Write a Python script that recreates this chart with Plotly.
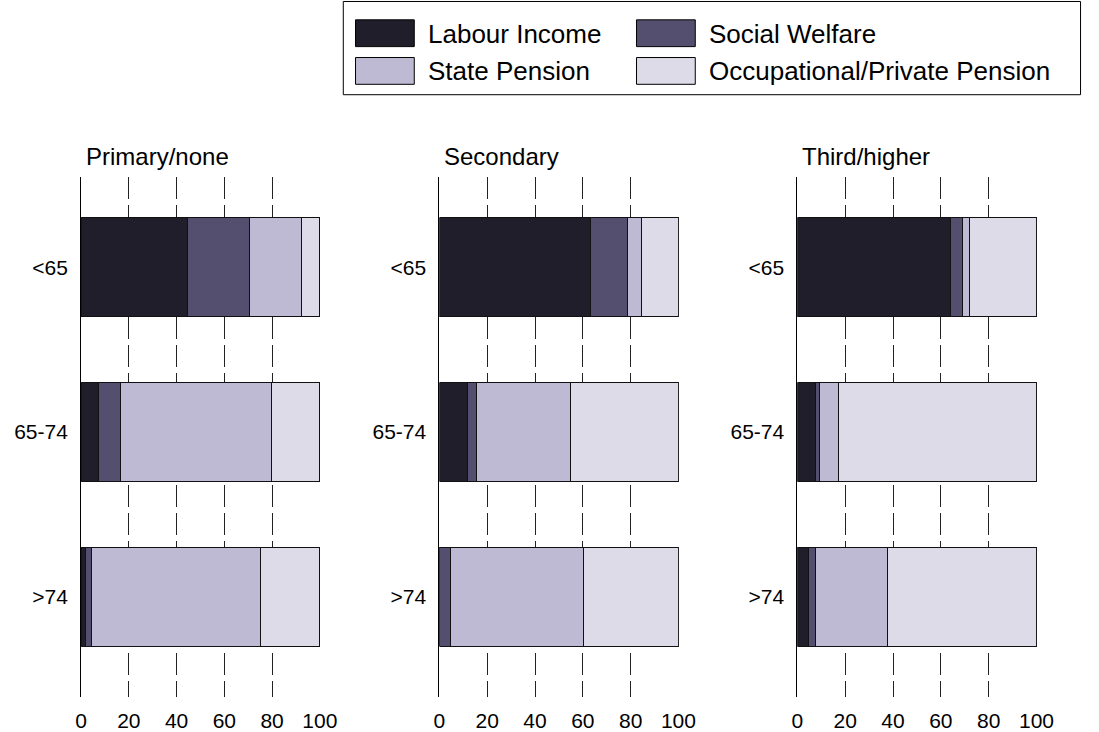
import plotly.graph_objects as go

# ---- data ----
age_groups = ["<65", "65-74", ">74"]
education = ["Primary/none", "Secondary", "Third/higher"]
series_names = ["Labour Income", "Social Welfare", "State Pension", "Occupational/Private Pension"]
series_colors = ["#1f1e2a", "#544f6e", "#bfbad3", "#dddbe7"]

# values per education panel, in order of age_groups
labour_income = [[44.7, 7.2, 1.8], [63.1, 11.9, 0.0], [64.2, 7.5, 4.6]]
social_welfare = [[25.8, 9.4, 2.5], [15.4, 3.6, 4.7], [5.0, 1.7, 2.8]]
state_pension = [[21.7, 63.1, 70.7], [6.0, 39.5, 55.4], [2.6, 8.2, 30.1]]
occ_private_pension = [[7.8, 20.3, 25.0], [15.5, 45.0, 39.9], [28.2, 82.6, 62.5]]
x_ticks = [0, 20, 40, 60, 80, 100]

all_series = [labour_income, social_welfare, state_pension, occ_private_pension]

W, H = 1099, 732
x_domains = [(76.7 / W, 321.0 / W), (442.7 / W, 687.3 / W), (808.3 / W, 1053.0 / W)]
y_domain = (1 - 703 / H, 1 - 178 / H)

FONT = "Liberation Sans, Arial, sans-serif"

fig = go.Figure()
for p in range(3):
    xa = "x" if p == 0 else f"x{p+1}"
    ya = "y" if p == 0 else f"y{p+1}"
    for s, name in enumerate(series_names):
        fig.add_trace(go.Bar(
            x=all_series[s][p], y=age_groups, orientation="h",
            name=name, marker=dict(color=series_colors[s], line=dict(color="#111111", width=1)),
            width=0.6, xaxis=xa, yaxis=ya, showlegend=False,
        ))

layout = dict(
    width=W, height=H, autosize=False, margin=dict(l=0, r=0, t=0, b=0),
    paper_bgcolor="white", plot_bgcolor="white", barmode="stack",
    font=dict(family=FONT, size=21, color="black"),
    showlegend=False,
)
for p in range(3):
    xk = "xaxis" if p == 0 else f"xaxis{p+1}"
    yk = "yaxis" if p == 0 else f"yaxis{p+1}"
    ya = "y" if p == 0 else f"y{p+1}"
    xa = "x" if p == 0 else f"x{p+1}"
    layout[xk] = dict(
        domain=list(x_domains[p]), anchor=ya, range=[0, 100.2],
        tickvals=x_ticks, ticktext=[str(v) for v in x_ticks],
        showgrid=True, gridcolor="#222222", gridwidth=1, griddash="22px,6px",
        zeroline=False, showline=False,
        ticks="outside", ticklen=5, tickcolor="rgba(0,0,0,0)",
        tickfont=dict(size=21, family=FONT),
        fixedrange=True,
    )
    layout[yk] = dict(
        domain=list(y_domain), anchor=xa,
        type="category", categoryorder="array", categoryarray=age_groups[::-1],
        range=[-0.611, 2.551],
        showgrid=False, zeroline=False,
        showline=True, linecolor="black", linewidth=1,
        ticks="outside", ticklen=8, tickcolor="rgba(0,0,0,0)",
        tickfont=dict(size=21, family=FONT),
        fixedrange=True,
    )
fig.update_layout(**layout)

# panel titles
for p in range(3):
    xa = "x" if p == 0 else f"x{p+1}"
    fig.add_annotation(
        text=education[p], xref=f"{xa} domain", yref="paper",
        x=0, y=1 - 158 / H, xanchor="left", yanchor="middle", xshift=3,
        showarrow=False, font=dict(size=24, family=FONT, color="black"),
    )

# legend box drawn in paper coordinates
def px(xp):
    return xp / W

def py(yp):
    return 1 - yp / H

fig.add_shape(type="rect", xref="paper", yref="paper",
              x0=px(344.5), x1=px(1097.5), y0=py(95.5), y1=py(1.5),
              line=dict(color="black", width=1), fillcolor="white")
leg_pos = [(357, 20), (644, 20), (357, 58), (644, 58)]
for s, name in enumerate(series_names):
    sx, sy = leg_pos[s]
    fig.add_shape(type="rect", xref="paper", yref="paper",
                  x0=px(sx), x1=px(sx + 60), y0=py(sy + 27), y1=py(sy),
                  line=dict(color="black", width=1), fillcolor=series_colors[s])
    fig.add_annotation(text=name, xref="paper", yref="paper",
                       x=px(sx + 72), y=py(sy + 14), xanchor="left", yanchor="middle",
                       showarrow=False,
                       font=dict(size=26, family=FONT, color="black"))

post = ("document.body.style.margin='0';document.body.style.padding='0';"
        "document.body.style.overflow='hidden';")
fig.write_html("out.html", post_script=post, config={"displayModeBar": False})
